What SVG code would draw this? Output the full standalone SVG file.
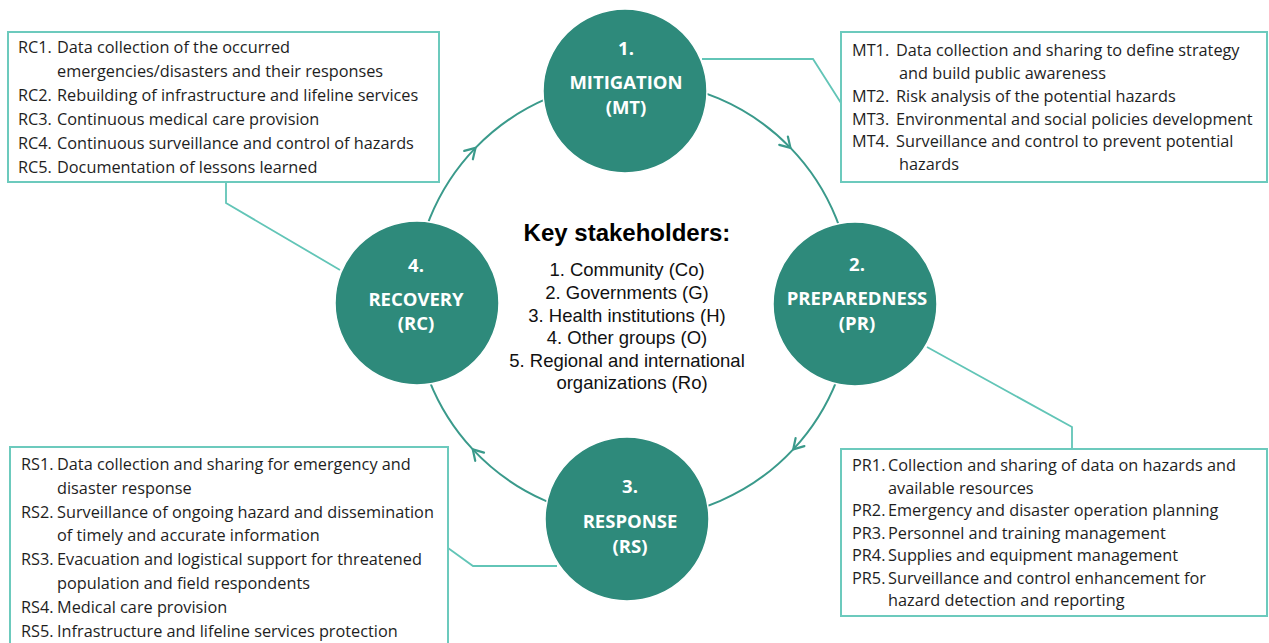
<svg xmlns="http://www.w3.org/2000/svg" width="1269" height="643" viewBox="0 0 1269 643">
  <style>
    .ring { fill: none; stroke: #3a9a8b; stroke-width: 2; }
    .link { fill: none; stroke: #62c5b7; stroke-width: 1.8; }
    .box { fill: #ffffff; stroke: #6ccabd; stroke-width: 2; }
    .phase { fill: #2e8a7b; stroke: #ffffff; stroke-width: 1.5; }
    .phase-label { font-family: "Open Sans", "Liberation Sans", sans-serif; font-weight: bold; font-size: 18.5px; fill: #ffffff; text-anchor: middle; }
    .item { font-family: "Open Sans", "Liberation Sans", sans-serif; font-size: 16.3px; fill: #1e1e1e; }
    .title { font-family: "Liberation Sans", Arial, sans-serif; font-weight: bold; font-size: 24px; fill: #000000; text-anchor: middle; }
    .stake { font-family: "Liberation Sans", Arial, sans-serif; font-size: 18.5px; fill: #111111; text-anchor: middle; }
  </style>
  <defs>
    <marker id="chevron" viewBox="-14 -9 16 18" refX="0" refY="0" markerWidth="16" markerHeight="18" markerUnits="userSpaceOnUse" orient="auto" overflow="visible">
      <path d="M -10 -6 L 0 0 L -10 6" fill="none" stroke="#3a9a8b" stroke-width="2.2" stroke-linecap="round" stroke-linejoin="round"/>
    </marker>
  </defs>

  <rect width="1269" height="643" fill="#ffffff"/>

  <!-- cycle ring and leader lines -->
  <g id="connectors">
    <path class="ring" marker-mid="url(#chevron)" d="M 633 81 A 219 219 0 0 1 790.5 147.9 A 219 219 0 0 1 852 300"/>
    <path class="ring" marker-mid="url(#chevron)" d="M 852 300 A 219 219 0 0 1 793.2 449.4 A 219 219 0 0 1 633 519"/>
    <path class="ring" marker-mid="url(#chevron)" d="M 633 519 A 219 219 0 0 1 472.8 449.4 A 219 219 0 0 1 414 300"/>
    <path class="ring" marker-mid="url(#chevron)" d="M 414 300 A 219 219 0 0 1 475.5 147.9 A 219 219 0 0 1 633 81"/>

    <polyline class="link" points="226,182 226,203 340,270"/>
    <polyline class="link" points="702,59 813,59 841,103"/>
    <polyline class="link" points="1072,449 1072,427 927,347"/>
    <polyline class="link" points="448,548 473,566 557,566"/>
  </g>

  <!-- phase circles -->
  <g id="mitigation">
    <circle class="phase" cx="625" cy="91" r="82"/>
    <text class="phase-label" x="626" y="55">1.</text>
    <text class="phase-label" x="626" y="89">MITIGATION</text>
    <text class="phase-label" x="626" y="114">(MT)</text>
  </g>
  <g id="preparedness">
    <circle class="phase" cx="855" cy="304" r="82"/>
    <text class="phase-label" x="857" y="271">2.</text>
    <text class="phase-label" x="857" y="305">PREPAREDNESS</text>
    <text class="phase-label" x="857" y="330">(PR)</text>
  </g>
  <g id="response">
    <circle class="phase" cx="627" cy="519" r="82"/>
    <text class="phase-label" x="630" y="493">3.</text>
    <text class="phase-label" x="630" y="528">RESPONSE</text>
    <text class="phase-label" x="630" y="553">(RS)</text>
  </g>
  <g id="recovery">
    <circle class="phase" cx="417" cy="303" r="82"/>
    <text class="phase-label" x="416" y="272">4.</text>
    <text class="phase-label" x="416" y="306">RECOVERY</text>
    <text class="phase-label" x="416" y="330">(RC)</text>
  </g>

  <!-- stakeholders in the middle of the cycle -->
  <g id="stakeholders">
    <text class="title" x="627" y="241">Key stakeholders:</text>
    <text class="stake" x="627" y="276">1. Community (Co)</text>
    <text class="stake" x="627" y="299">2. Governments (G)</text>
    <text class="stake" x="627" y="321.5">3. Health institutions (H)</text>
    <text class="stake" x="627" y="344">4. Other groups (O)</text>
    <text class="stake" x="627" y="366.5">5. Regional and international</text>
    <text class="stake" x="632" y="389">organizations (Ro)</text>
  </g>

  <!-- recovery activities -->
  <g id="recovery-box">
    <rect class="box" x="8" y="32" width="431" height="150"/>
    <text class="item" x="18" y="53">RC1.<tspan x="57">Data collection of the occurred</tspan></text>
    <text class="item" x="57" y="77">emergencies/disasters and their responses</text>
    <text class="item" x="18" y="101">RC2.<tspan x="57">Rebuilding of infrastructure and lifeline services</tspan></text>
    <text class="item" x="18" y="125">RC3.<tspan x="57">Continuous medical care provision</tspan></text>
    <text class="item" x="18" y="149">RC4.<tspan x="57">Continuous surveillance and control of hazards</tspan></text>
    <text class="item" x="18" y="173">RC5.<tspan x="57">Documentation of lessons learned</tspan></text>
  </g>

  <!-- mitigation activities -->
  <g id="mitigation-box">
    <rect class="box" x="841" y="32" width="426" height="150"/>
    <text class="item" x="852" y="56">MT1.<tspan x="896">Data collection and sharing to define strategy</tspan></text>
    <text class="item" x="899" y="79">and build public awareness</text>
    <text class="item" x="852" y="102">MT2.<tspan x="896">Risk analysis of the potential hazards</tspan></text>
    <text class="item" x="852" y="125">MT3.<tspan x="896">Environmental and social policies development</tspan></text>
    <text class="item" x="852" y="147">MT4.<tspan x="896">Surveillance and control to prevent potential</tspan></text>
    <text class="item" x="899" y="170">hazards</text>
  </g>

  <!-- preparedness activities -->
  <g id="preparedness-box">
    <rect class="box" x="841" y="449" width="426" height="167"/>
    <text class="item" x="852" y="471">PR1.<tspan x="888">Collection and sharing of data on hazards and</tspan></text>
    <text class="item" x="888" y="494">available resources</text>
    <text class="item" x="852" y="516">PR2.<tspan x="888">Emergency and disaster operation planning</tspan></text>
    <text class="item" x="852" y="539">PR3.<tspan x="888">Personnel and training management</tspan></text>
    <text class="item" x="852" y="561">PR4.<tspan x="888">Supplies and equipment management</tspan></text>
    <text class="item" x="852" y="584">PR5.<tspan x="888">Surveillance and control enhancement for</tspan></text>
    <text class="item" x="888" y="606">hazard detection and reporting</text>
  </g>

  <!-- response activities -->
  <g id="response-box">
    <rect class="box" x="10" y="447" width="438" height="210"/>
    <text class="item" x="21" y="470">RS1.<tspan x="57">Data collection and sharing for emergency and</tspan></text>
    <text class="item" x="57" y="494">disaster response</text>
    <text class="item" x="21" y="517.5">RS2.<tspan x="57">Surveillance of ongoing hazard and dissemination</tspan></text>
    <text class="item" x="57" y="541">of timely and accurate information</text>
    <text class="item" x="21" y="565">RS3.<tspan x="57">Evacuation and logistical support for threatened</tspan></text>
    <text class="item" x="57" y="589">population and field respondents</text>
    <text class="item" x="21" y="612.5">RS4.<tspan x="57">Medical care provision</tspan></text>
    <text class="item" x="21" y="636.5">RS5.<tspan x="57">Infrastructure and lifeline services protection</tspan></text>
  </g>
</svg>
